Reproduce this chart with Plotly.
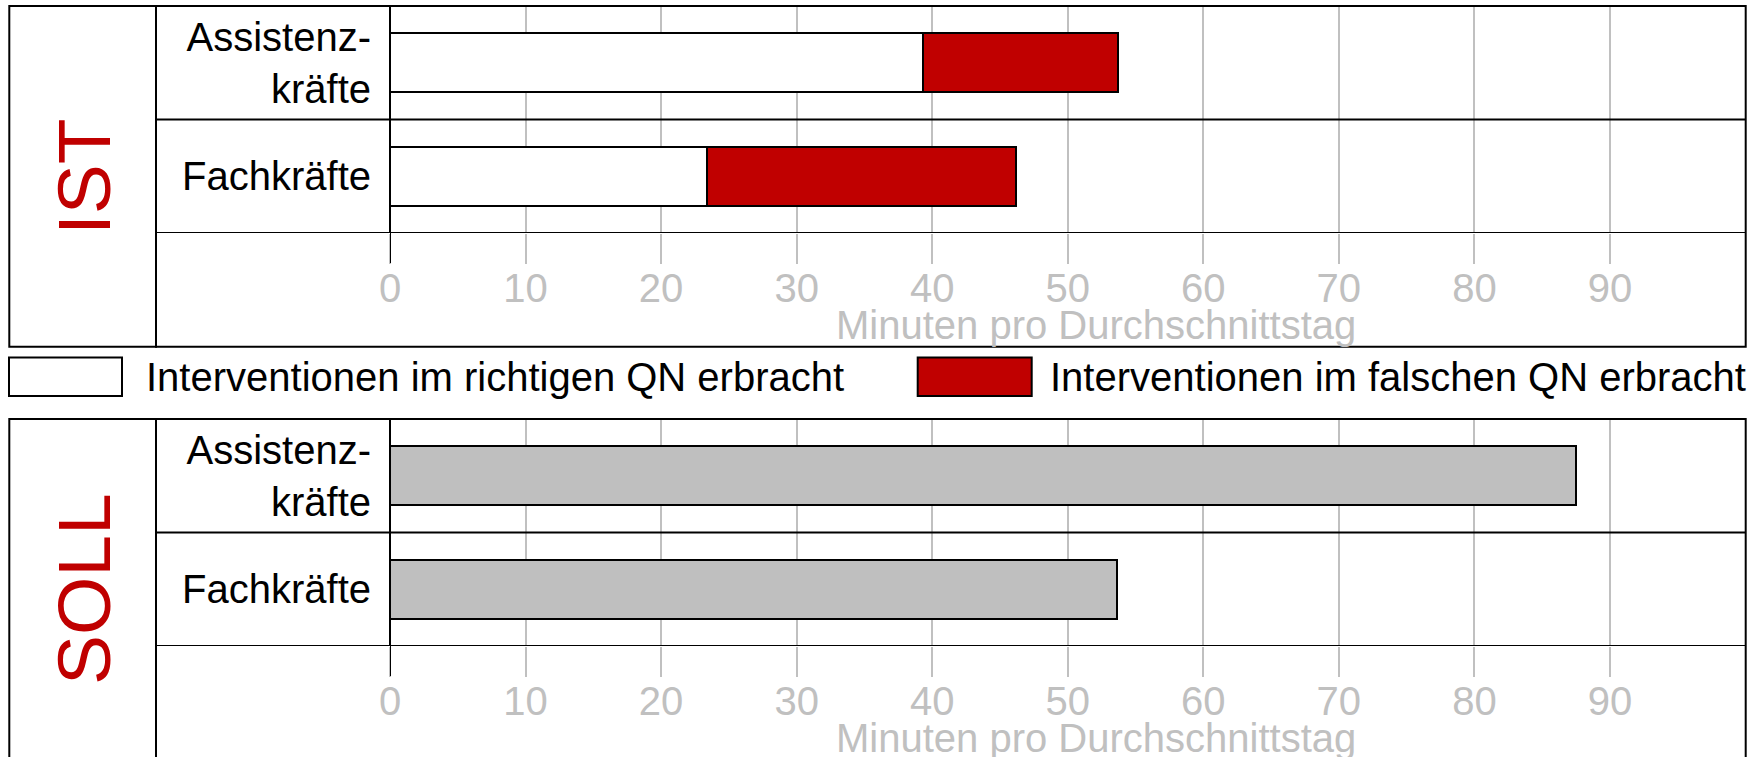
import plotly.graph_objects as go

# ---------------- data ----------------
categories = ["Fachkräfte", "Assistenz-<br>kräfte"]
series_names = ["Interventionen im richtigen QN erbracht",
                "Interventionen im falschen QN erbracht"]
ist_richtig = [23.4, 39.3]
ist_falsch = [22.8, 14.4]
soll_values = [53.6, 87.5]
tick_values = [0, 10, 20, 30, 40, 50, 60, 70, 80, 90]
tick_labels = ["0", "10", "20", "30", "40", "50", "60", "70", "80", "90"]
axis_title = "Minuten pro Durchschnittstag"
panel_titles = ["IST", "SOLL"]

# ---------------- styles ----------------
W, H = 1757, 757
FONT = "Liberation Sans, Arial, sans-serif"
RED = "#C00000"
GREY = "#BFBFBF"
GRID = "#C0C0C0"


def px(x):
    return x / W


def py(y):
    return 1 - y / H


fig = go.Figure()

fig.add_trace(go.Bar(
    y=categories, x=ist_richtig, orientation="h", name=series_names[0],
    marker=dict(color="white", line=dict(color="black", width=2)),
    width=0.52, xaxis="x", yaxis="y", showlegend=False))
fig.add_trace(go.Bar(
    y=categories, x=ist_falsch, orientation="h", name=series_names[1],
    marker=dict(color=RED, line=dict(color="black", width=2)),
    width=0.52, xaxis="x", yaxis="y", showlegend=False))
fig.add_trace(go.Bar(
    y=categories, x=soll_values, orientation="h", name="SOLL",
    marker=dict(color=GREY, line=dict(color="black", width=2)),
    width=0.52, xaxis="x2", yaxis="y2", showlegend=False))

x_dom = [px(390), px(1745.5)]
xax = dict(range=[0, 100], tickvals=tick_values, ticktext=tick_labels,
           showgrid=True, gridcolor=GRID, gridwidth=2,
           ticks="outside", ticklen=30, tickwidth=2, tickcolor=GRID,
           tickfont=dict(family=FONT, size=40, color=GRID),
           ticklabelstandoff=-10, automargin=False,
           zeroline=True, zerolinecolor="black", zerolinewidth=2,
           showline=False, fixedrange=True)
yax = dict(type="category", categoryorder="array", categoryarray=categories,
           range=[-0.5, 1.5], showgrid=False, zeroline=False, showline=False,
           ticks="", tickfont=dict(family=FONT, size=40, color="black"),
           ticklabelstandoff=18, automargin=False, fixedrange=True)

fig.update_layout(
    width=W, height=H, autosize=False,
    margin=dict(l=0, r=0, t=0, b=0, pad=0, autoexpand=False),
    paper_bgcolor="white", plot_bgcolor="white",
    barmode="stack", bargap=0.48,
    font=dict(family=FONT),
    xaxis=dict(domain=x_dom, anchor="y", **xax),
    yaxis=dict(domain=[py(233), py(6)], anchor="x", **yax),
    xaxis2=dict(domain=x_dom, anchor="y2", **xax),
    yaxis2=dict(domain=[py(646), py(419)], anchor="x2", **yax),
)

shapes = []
annotations = []
offsets = [0, 413]
yrefs = ["y", "y2"]
xrefs = ["x", "x2"]
for i, off in enumerate(offsets):
    # category separators
    for yv in (0.5, -0.5):
        shapes.append(dict(type="line", xref="paper", yref=yrefs[i],
                           x0=px(156), x1=px(1745.5), y0=yv, y1=yv,
                           line=dict(color="black", width=2), layer="above"))
    # y-axis extension below plot
    shapes.append(dict(type="line", xref=xrefs[i], yref="paper",
                       x0=0, x1=0, y0=py(233 + off), y1=py(263 + off),
                       line=dict(color="black", width=2), layer="above"))
    # outer box
    bottom = 346.7 if i == 0 else 770
    shapes.append(dict(type="rect", xref="paper", yref="paper",
                       x0=px(9.3), x1=px(1745.7), y0=py(bottom), y1=py(6 + off),
                       line=dict(color="black", width=2), fillcolor="rgba(0,0,0,0)",
                       layer="above"))
    # inner vertical separator
    shapes.append(dict(type="line", xref="paper", yref="paper",
                       x0=px(156), x1=px(156), y0=py(bottom + 1), y1=py(6 + off),
                       line=dict(color="black", width=2), layer="above"))
    # panel title
    annotations.append(dict(text=panel_titles[i], xref="paper", yref="paper",
                            x=px(83.5), y=py(176.5 + off), xanchor="center",
                            yanchor="middle", textangle=-90, showarrow=False,
                            font=dict(family=FONT, size=75, color=RED)))
    # axis title
    annotations.append(dict(text=axis_title, xref="paper", yref="paper",
                            x=px(1096), y=py(325 + off), xanchor="center",
                            yanchor="middle", showarrow=False,
                            font=dict(family=FONT, size=40, color=GRID)))

# legend
legend_items = [(9, 122, 144, "white", series_names[0]),
                (917.7, 1031.7, 1048, RED, series_names[1])]
for x0, x1, tx, col, name in legend_items:
    shapes.append(dict(type="rect", xref="paper", yref="paper",
                       x0=px(x0), x1=px(x1), y0=py(396), y1=py(357.5),
                       line=dict(color="black", width=2), fillcolor=col))
    annotations.append(dict(text=name, xref="paper", yref="paper",
                            x=px(tx), y=py(377), xanchor="left", yanchor="middle",
                            showarrow=False,
                            font=dict(family=FONT, size=40, color="black")))

fig.update_layout(shapes=shapes, annotations=annotations)

fig.write_html(
    "out.html",
    config=dict(displayModeBar=False, responsive=False),
    post_script="document.body.style.margin='0';"
                "document.body.style.overflow='hidden';")
